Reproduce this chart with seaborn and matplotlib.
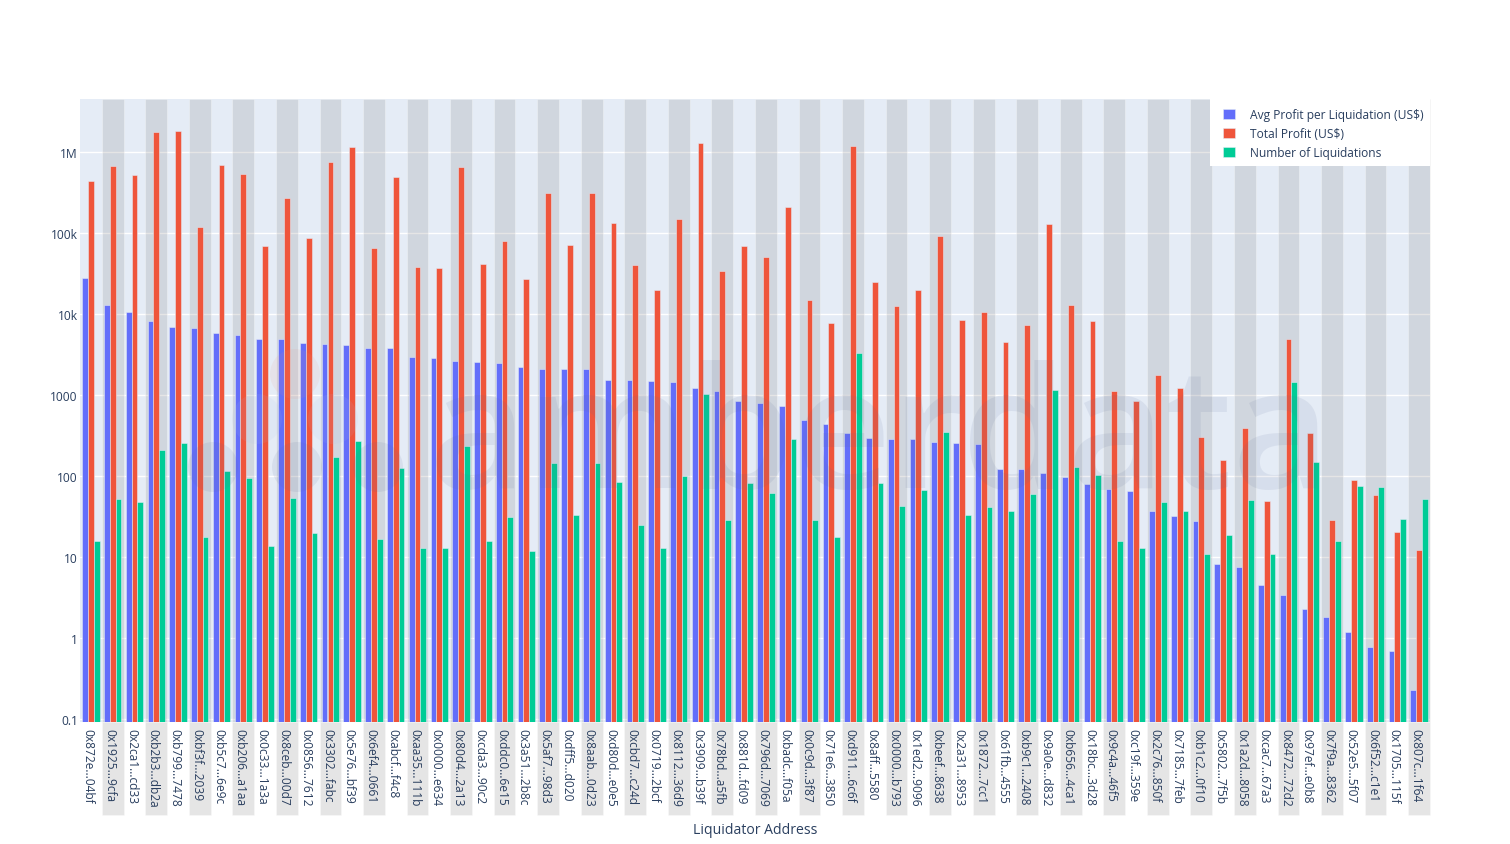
import pandas as pd
import matplotlib
matplotlib.use("Agg")
import matplotlib.pyplot as plt
from matplotlib.patches import Circle, Rectangle
from matplotlib.transforms import IdentityTransform, ScaledTranslation
import seaborn as sns

addresses = [
    "0x872e...04bf", "0x1925...9cfa", "0x2ca1...cd33", "0xb2b3...db2a", "0xb799...7478", "0xbf3f...2039",
    "0xb5c7...6e9c", "0xb206...a1aa", "0x0c33...1a3a", "0x8ceb...00d7", "0x0856...7612", "0x3302...fabc",
    "0x5e76...bf39", "0x6ef4...0661", "0xabcf...f4c8", "0xaa35...111b", "0x0000...e634", "0x80d4...2a13",
    "0xcda3...90c2", "0xddc0...6e15", "0x3a51...2b8c", "0x5af7...98d3", "0xdff5...d020", "0x8aab...0d23",
    "0xd80d...e0e5", "0xcbd7...c24d", "0x0719...2bcf", "0x8112...36d9", "0x3909...b39f", "0x78bd...a5fb",
    "0x881d...fd09", "0x796d...7069", "0xbadc...f05a", "0x0c9d...3f87", "0x71e6...3850", "0xd911...6c6f",
    "0x8aff...5580", "0x0000...b793", "0x1ed2...9096", "0xbeef...8638", "0x2a31...8953", "0x1872...7cc1",
    "0x61fb...4555", "0xb9c1...2408", "0x9a0e...d832", "0xb656...4ca1", "0x18bc...3d28", "0x9c4a...46f5",
    "0xc19f...359e", "0x2c76...850f", "0x7185...7feb", "0xb1c2...0f10", "0x5802...7f5b", "0x1a2d...8058",
    "0xcac7...67a3", "0x8472...72d2", "0x97ef...e0b8", "0x7f9a...8362", "0x52e5...5f07", "0x6f52...c1e1",
    "0x1705...115f", "0x807c...1f64",
]

avg_profit = [
    27900, 13100, 10800, 8320, 6950, 6750, 5860, 5530, 4990, 4940, 4450, 4330, 4250, 3900, 3860, 2960,
    2880, 2700, 2620, 2500, 2270, 2130, 2110, 2110, 1560, 1550, 1530, 1460, 1240, 1140, 843, 811,
    738, 500, 447, 346, 300, 292, 289, 263, 261, 251, 123, 122, 110, 98.4, 79.8, 70.8,
    65.6, 37.2, 32.3, 28, 8.36, 7.67, 4.56, 3.44, 2.33, 1.84, 1.2, 0.79, 0.695, 0.23,
]

total_profit = [
    447000, 685000, 520000, 1780000, 1850000, 121000, 698000, 541000, 70000, 276000, 88700, 760000,
    1170000, 66000, 492000, 38200, 37800, 659000, 42500, 80000, 27200, 318000, 71900, 312000,
    136000, 40500, 19900, 151000, 1320000, 34100, 70600, 51700, 214000, 15100, 7940, 1200000,
    25400, 12700, 20300, 93800, 8650, 10700, 4620, 7430, 132000, 13100, 8240, 1130,
    843, 1815, 1220, 310, 158, 392, 49.9, 4990, 347, 29.4, 91.4, 59.2, 20.7, 12.2,
]

num_liquidations = [
    16, 52, 48, 211, 262, 18, 118, 97, 14, 55, 20, 175, 272, 17, 127, 13,
    13, 239, 16, 32, 12, 147, 33, 146, 86, 25, 13, 101, 1050, 29, 83, 63,
    289, 29, 18, 3390, 84, 43, 69, 352, 33, 42, 37, 60, 1175, 132, 103, 16,
    13, 49, 38, 11, 19, 51, 11, 1460, 150, 16, 76, 74, 30, 53,
]

series_names = ["Avg Profit per Liquidation (US$)", "Total Profit (US$)", "Number of Liquidations"]
series_colors = ["#636EFA", "#EF553B", "#00CC96"]

y_ticks = [0.1, 1, 10, 100, 1000, 10000, 100000, 1000000]
y_tick_labels = ["0.1", "1", "10", "100", "1000", "10k", "100k", "1M"]

TEXT_COLOR = "#2a3f5f"
W, H = 1510, 845

sns.set_style("white")
plt.rcParams["font.family"] = ["Open Sans", "DejaVu Sans"]

df = pd.DataFrame({
    "address": addresses,
    series_names[0]: avg_profit,
    series_names[1]: total_profit,
    series_names[2]: num_liquidations,
})
long_df = df.melt(id_vars="address", var_name="series", value_name="value")

fig = plt.figure(figsize=(W / 100, H / 100), dpi=100)
ax = fig.add_axes([80 / W, 1 - 723 / H, 1350 / W, 623 / H])
ax.set_facecolor("#E5ECF6")

sns.barplot(
    data=long_df, x="address", y="value", hue="series",
    order=addresses, hue_order=series_names, palette=series_colors,
    width=0.8, saturation=1, errorbar=None, log_scale=True,
    edgecolor="#E5ECF6", linewidth=0.36, ax=ax,
)

# bars need a positive base on the log axis, otherwise only their tops get drawn
base = 1e-3
for container in ax.containers:
    for bar in container:
        top = bar.get_y() + bar.get_height()
        bar.set_y(base)
        bar.set_height(top - base)

# grey bands on every other address, they run down behind the tick labels
band_drop = 93 / 623
band_face = (0.5, 0.5, 0.5, 0.2)
band_edge = (1, 1, 1, 0.3)
for i in range(1, len(addresses), 2):
    ax.axvspan(i - 0.5, i + 0.5, ymin=0, ymax=1, facecolor=band_face, edgecolor=band_edge, lw=0.7, zorder=0.9, clip_on=False)
    ax.axvspan(i - 0.5, i + 0.5, ymin=-band_drop, ymax=0, facecolor=band_face, edgecolor=band_edge, lw=0.7, zorder=0.4, clip_on=False)

ax.set_xlim(-0.5, len(addresses) - 0.5)
ax.set_ylim(10 ** -1.031, 10 ** 6.66)
ax.set_yticks(y_ticks, y_tick_labels)
ax.minorticks_off()
ax.set_axisbelow(True)
ax.grid(axis="y", color="white", linewidth=1)
ax.grid(axis="x", visible=False)
sns.despine(ax=ax, left=True, bottom=True)

ax.tick_params(axis="y", length=0, pad=1.5, labelsize=8.64, labelcolor=TEXT_COLOR)
ax.tick_params(axis="x", length=0, pad=4.5, labelsize=8.64, labelcolor=TEXT_COLOR)
nudge = ScaledTranslation(-3 / 100, 0, fig.dpi_scale_trans)
for label in ax.get_xticklabels():
    label.set(rotation=-90, rotation_mode="anchor", ha="left", va="center")
    label.set_transform(label.get_transform() + nudge)
ax.set_ylabel("")
ax.set_xlabel("Liquidator Address", fontsize=10.08, color=TEXT_COLOR, va="center")
ax.xaxis.set_label_coords(0.5, -108 / 623)

# white legend box is its own patch, plotly pads the left side more than the right
ax.add_patch(Rectangle(((1210 - 80) / 1350, 1 - 67 / 623), 220 / 1350, 67 / 623,
                       transform=ax.transAxes, facecolor="white", edgecolor="none", zorder=4))
handles, labels = ax.get_legend_handles_labels()
leg = ax.legend(
    handles, labels, loc="upper right", bbox_to_anchor=(1, 1 - 3 / 623), borderaxespad=0,
    frameon=False, fontsize=8.64, handlelength=1, handleheight=1, handletextpad=1.25,
    labelspacing=0.5, borderpad=0.5, labelcolor=TEXT_COLOR,
)
leg.set_zorder(5)

# faint logo and wordmark laid over the bars
logo_circles = [
    (295, 375, "#e8917c"), (257, 420, "#a9bfe8"), (333, 420, "#a9bfe8"),
    (213, 468, "#5a6a94"), (297, 468, "#5a6a94"), (378, 468, "#5a6a94"),
]
for cx, cy, col in logo_circles:
    fig.add_artist(Circle((cx, H - cy), 25, transform=IdentityTransform(), facecolor=col, edgecolor="none", alpha=0.1))
fig.text(428 / W, 1 - 488 / H, "amberdata", fontsize=122, color="#5a6a94", alpha=0.1,
         ha="left", va="baseline", fontweight="semibold")

fig.savefig("out.png", dpi=100)
plt.close(fig)
